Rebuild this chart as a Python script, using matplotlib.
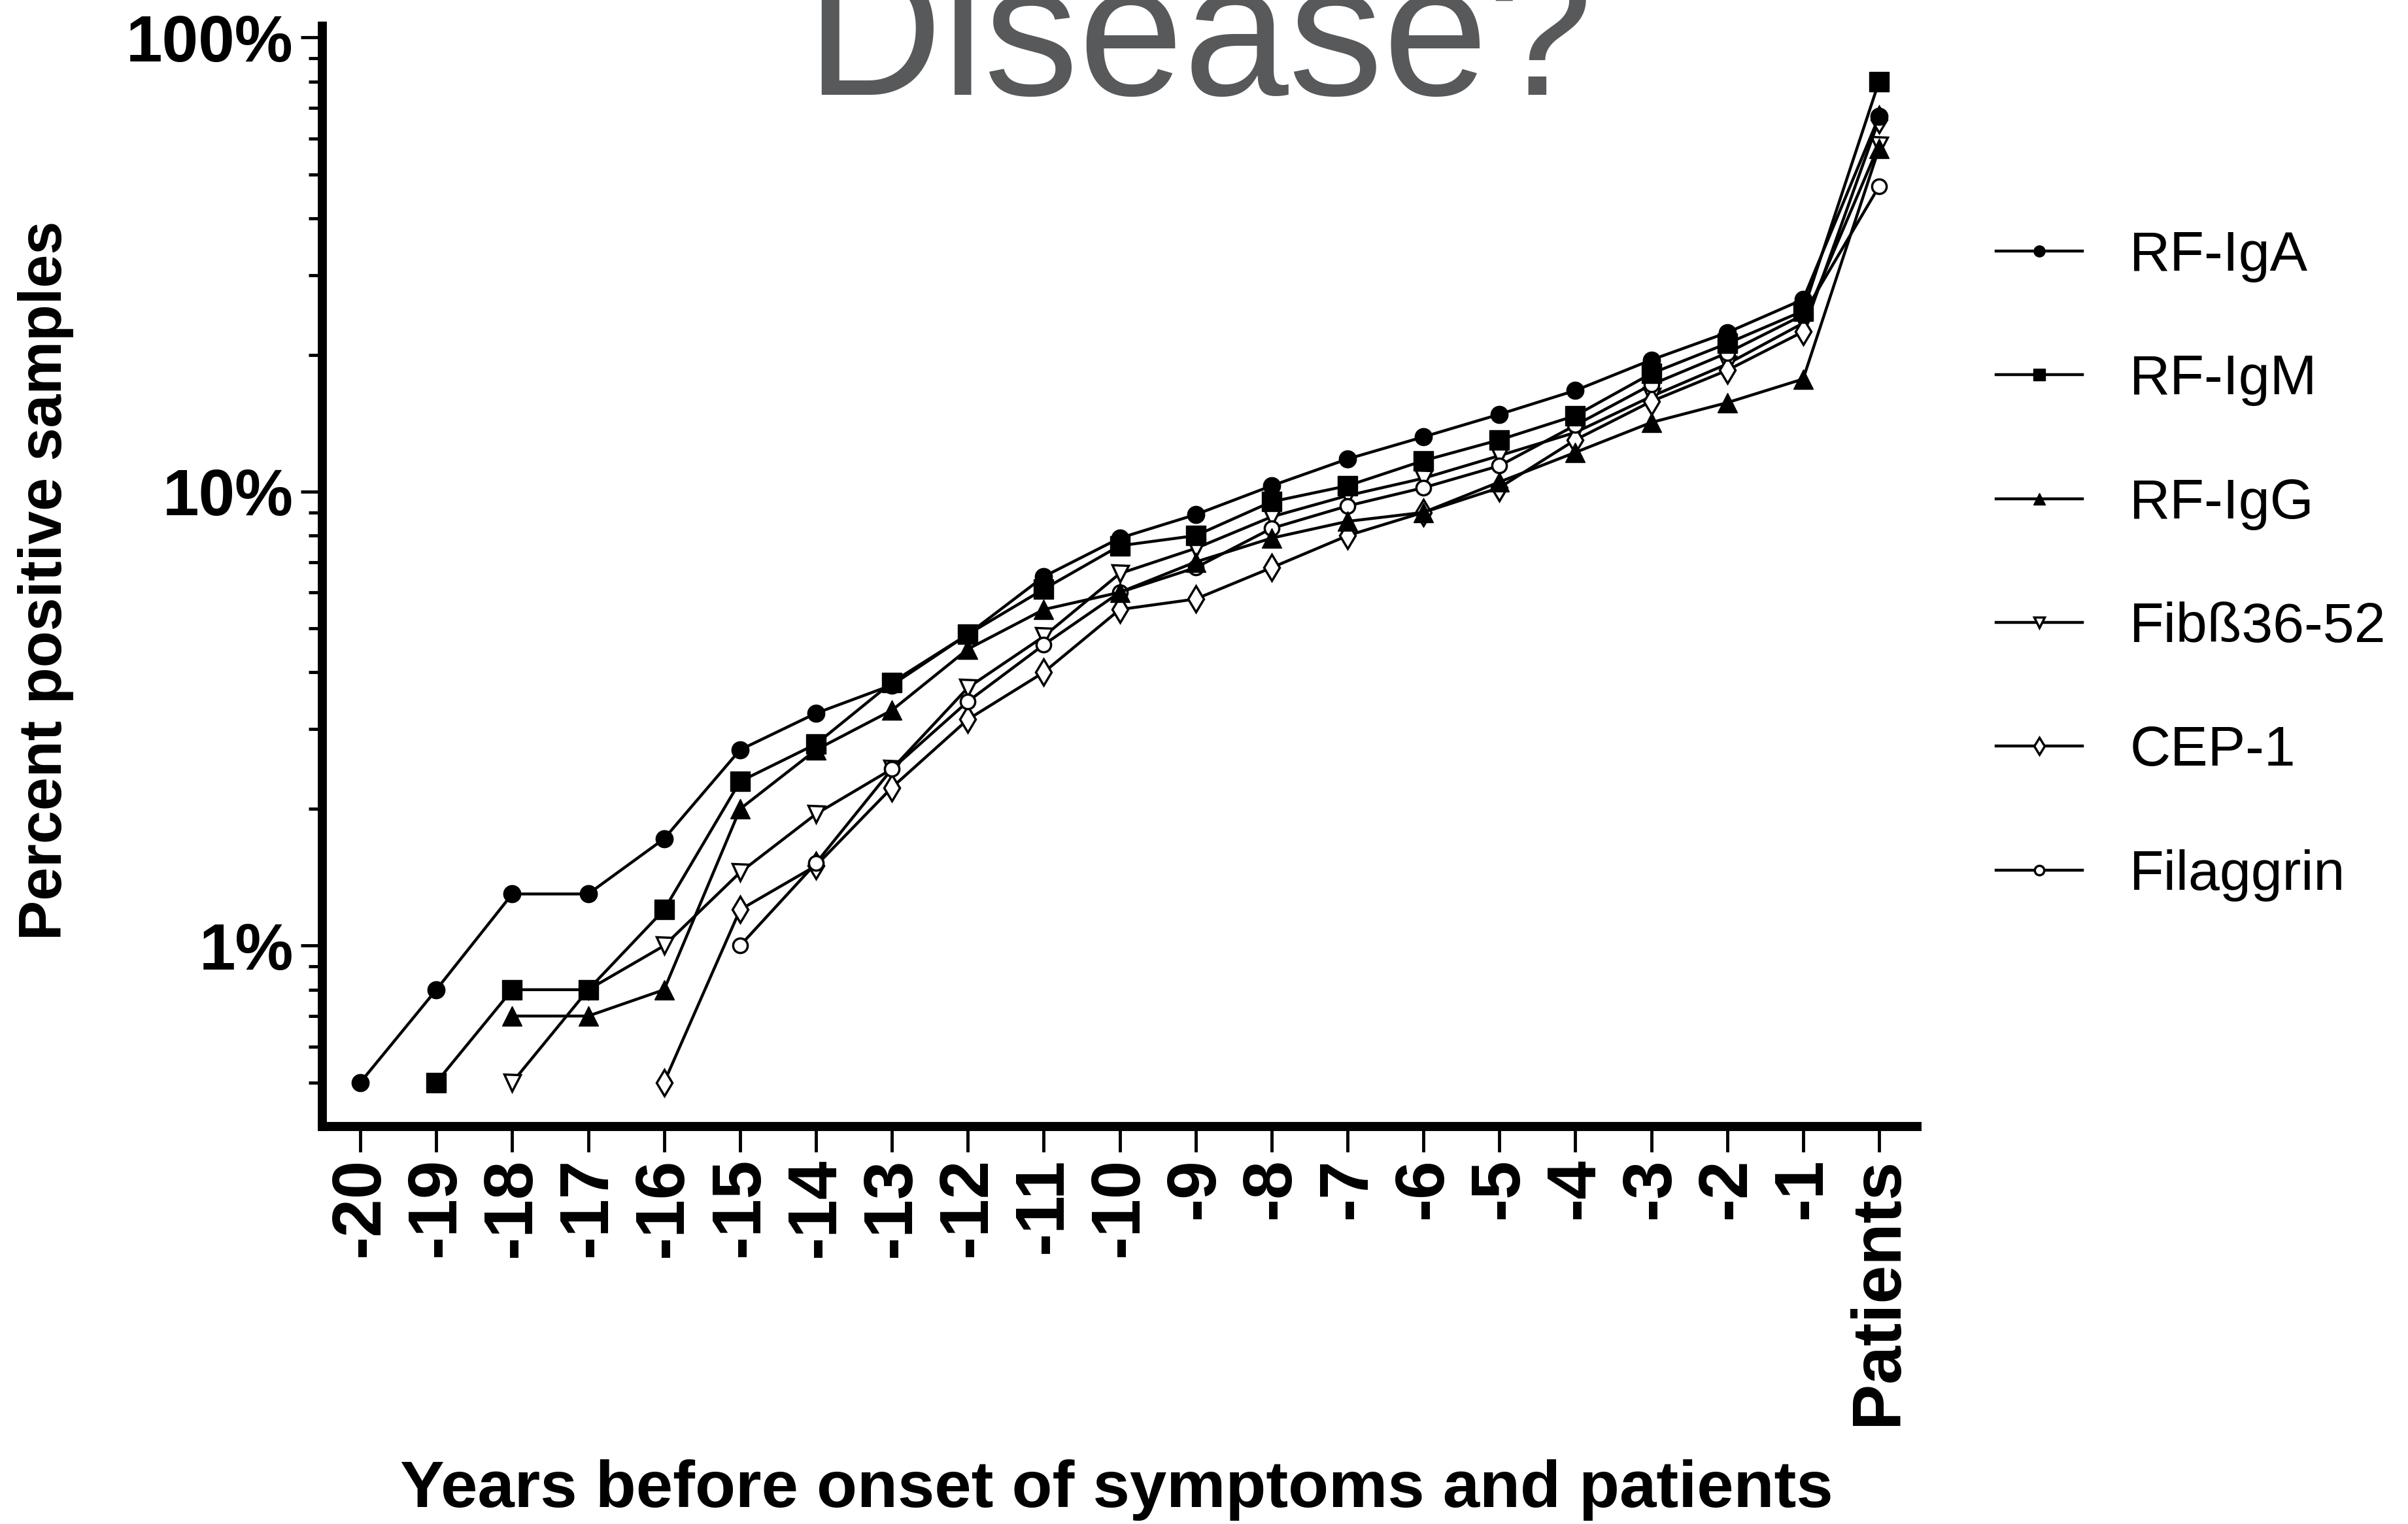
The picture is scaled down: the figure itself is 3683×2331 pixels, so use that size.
import numpy as np
import matplotlib
matplotlib.use("Agg")
import matplotlib.pyplot as plt
from matplotlib.ticker import FixedLocator, NullFormatter

plt.rcParams['font.family'] = ['Liberation Sans', 'DejaVu Sans']

# x categories
years = ['-20', '-19', '-18', '-17', '-16', '-15', '-14', '-13', '-12', '-11',
         '-10', '-9', '-8', '-7', '-6', '-5', '-4', '-3', '-2', '-1', 'Patients']

nan = np.nan
# percent positive samples
rf_iga = [0.5, 0.8, 1.3, 1.3, 1.72, 2.7, 3.25, 3.75, 4.85, 6.5,
          7.9, 8.9, 10.3, 11.8, 13.2, 14.8, 16.7, 19.5, 22.4, 26.5, 67]
rf_igm = [nan, 0.5, 0.8, 0.8, 1.2, 2.3, 2.78, 3.8, 4.85, 6.1,
          7.6, 8.0, 9.5, 10.3, 11.7, 13.0, 14.7, 18.2, 21.2, 25.0, 80]
rf_igg = [nan, nan, 0.7, 0.7, 0.8, 2.0, 2.7, 3.3, 4.5, 5.5,
          6.0, 7.0, 7.9, 8.6, 9.0, 10.5, 12.2, 14.2, 15.7, 17.7, 57]
fib = [nan, nan, 0.5, 0.8, 1.0, 1.45, 1.95, 2.45, 3.7, 4.8,
       6.6, 7.5, 8.8, 9.8, 10.7, 12.0, 13.5, 16.2, 19.1, 23.5, 58]
cep1 = [nan, nan, nan, nan, 0.5, 1.2, 1.5, 2.23, 3.15, 4.0,
        5.5, 5.8, 6.8, 8.0, 9.0, 10.2, 13.0, 15.8, 18.5, 22.5, 66]
filaggrin = [nan, nan, nan, nan, nan, 1.0, 1.52, 2.45, 3.45, 4.6,
             6.0, 6.8, 8.3, 9.3, 10.2, 11.4, 14.0, 17.2, 20.2, 24.5, 47]

names = ['RF-IgA', 'RF-IgM', 'RF-IgG', 'Fibß36-52', 'CEP-1', 'Filaggrin']

fig = plt.figure(figsize=(36.83, 23.31), dpi=100)
ax = fig.add_axes([0.1339, 0.2609, 0.6622, 0.722])

x = np.arange(len(years))

# filled markers
ax.plot(x, rf_iga, color='black', lw=3.2, marker='o', ms=19, mfc='black', mec='black', label=names[0], zorder=6)
ax.plot(x, rf_igm, color='black', lw=3.2, marker='s', ms=21, mfc='black', mec='black', label=names[1], zorder=6)
ax.plot(x, rf_igg, color='black', lw=3.2, marker='^', ms=21, mfc='black', mec='black', label=names[2], zorder=6)
# open markers
ax.plot(x, fib, color='black', lw=3.2, marker='v', ms=18, mfc='white', mec='black', mew=2.5, label=names[3], zorder=5)
ax.plot(x, cep1, color='black', lw=3.2, marker='d', ms=20, mfc='white', mec='black', mew=2.5, label=names[4], zorder=5)
ax.plot(x, filaggrin, color='black', lw=3.2, marker='o', ms=16, mfc='white', mec='black', mew=2.5, label=names[5], zorder=5)

ax.set_yscale('log')
ax.set_ylim(0.4, 106)
ax.set_xlim(-0.5, 20.5)

ax.yaxis.set_major_locator(FixedLocator([1, 10, 100]))
ax.set_yticklabels(['1%', '10%', '100%'])
minor = [0.5, 0.6, 0.7, 0.8, 0.9] + list(range(2, 10)) + list(range(20, 100, 10))
ax.yaxis.set_minor_locator(FixedLocator(minor))
ax.yaxis.set_minor_formatter(NullFormatter())

ax.set_xticks(x)
ax.set_xticklabels(years, rotation=90, fontsize=76, fontweight='bold')
for lab in ax.get_yticklabels():
    lab.set_fontsize(72)
    lab.set_fontweight('bold')

for s in ['top', 'right']:
    ax.spines[s].set_visible(False)
for s in ['left', 'bottom']:
    ax.spines[s].set_linewidth(10)

ax.tick_params(axis='x', which='major', length=28, width=3.5, pad=6)
ax.tick_params(axis='y', which='major', length=24, width=3.5, pad=8)
ax.tick_params(axis='y', which='minor', length=15, width=3.5)

fig.text(0.019, 0.619, 'Percent positive samples', rotation=90, ha='center', va='center',
         fontsize=66, fontweight='bold')
fig.text(0.4637, 0.0225, 'Years before onset of symptoms and patients', ha='center', va='center',
         fontsize=73, fontweight='bold')

fig.text(0.498, 0.938, 'Disease?', ha='center', va='baseline', fontsize=208, color='#58595b')

ax.legend(loc='upper left', bbox_to_anchor=(0.829, 0.849), bbox_transform=fig.transFigure,
          frameon=False, fontsize=62, handlelength=1.53, handletextpad=0.84,
          labelspacing=1.27, borderpad=0, borderaxespad=0, markerscale=0.65)

fig.savefig('out.png', dpi=100)
